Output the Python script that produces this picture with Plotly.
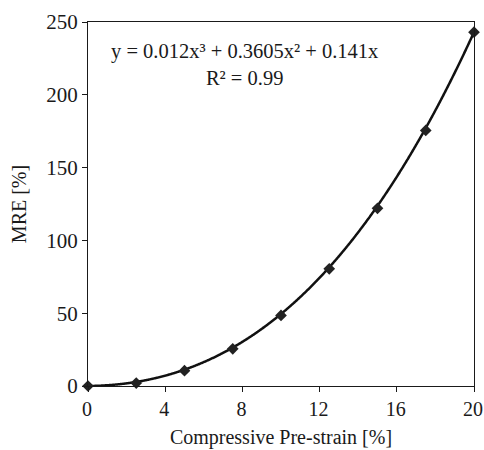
import numpy as np
import plotly.graph_objects as go

# Data
strain = [0, 1, 2.5, 5, 7.5, 10, 12.5, 15, 17.5, 20]
mre = [0, -0.3, 2, 10.5, 25.5, 48.5, 80.5, 122, 175.5, 243]

# Trendline coefficients (as printed on the chart): a3, a2, a1
coef = [0.012, 0.3605, 0.141]
eq_text = "y = 0.012x³ + 0.3605x² + 0.141x<br>R² = 0.99"

xs = np.linspace(0, 20, 400)
ys = coef[0] * xs**3 + coef[1] * xs**2 + coef[2] * xs

font = "Liberation Serif, Times New Roman, serif"
ink = "#1a1a1a"

fig = go.Figure()
fig.add_trace(go.Scatter(x=xs, y=ys, mode="lines",
                         line=dict(color="#111111", width=2.5, shape="spline"),
                         cliponaxis=False, showlegend=False, hoverinfo="skip"))
fig.add_trace(go.Scatter(x=strain, y=mre, mode="markers",
                         marker=dict(symbol="diamond", size=9, color="#222222"),
                         cliponaxis=False, showlegend=False))

fig.add_annotation(x=8.1, y=220.5, xref="x", yref="y", text=eq_text,
                   showarrow=False, align="center",
                   font=dict(family=font, size=20.5, color=ink))

axis_common = dict(showline=True, linecolor=ink, linewidth=1.3, mirror=True,
                   ticks="outside", ticklen=5, tickwidth=1.3, tickcolor=ink,
                   showgrid=False, zeroline=False, ticklabeloverflow="allow")

fig.update_xaxes(range=[0, 20], tickvals=[0, 4, 8, 12, 16, 20],
                 tickfont=dict(family=font, size=20, color=ink), ticklabelshift=-1,
                 title=dict(text="Compressive Pre-strain [%]",
                            font=dict(family=font, size=20, color=ink), standoff=10),
                 **axis_common)
fig.update_yaxes(range=[0, 250], tickvals=[0, 50, 100, 150, 200, 250],
                 tickfont=dict(family=font, size=21, color=ink),
                 title=dict(text="MRE [%]",
                            font=dict(family=font, size=20, color=ink), standoff=14),
                 **axis_common)

fig.update_layout(width=484, height=450,
                  margin=dict(l=88, r=10, t=22, b=64, autoexpand=False),
                  plot_bgcolor="white", paper_bgcolor="white",
                  font=dict(family=font))

# remove the page's default body margin so the figure fills the window exactly
fig.write_html("out.html",
               config={"displayModeBar": False},
               post_script="document.body.style.margin='0';document.body.style.overflow='hidden';")
